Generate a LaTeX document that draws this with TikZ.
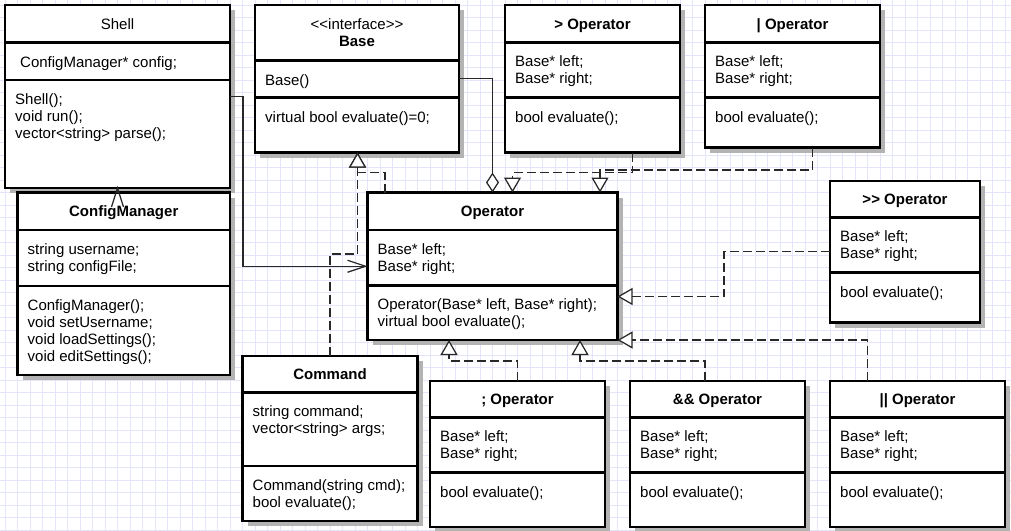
\documentclass[tikz,border=0pt]{standalone}
\usepackage{fontspec}
\setmainfont{Liberation Sans}
\usetikzlibrary{arrows.meta}
\definecolor{gridblue}{RGB}{228,228,250}
\definecolor{shadowgray}{RGB}{179,179,179}
\definecolor{edgegray}{RGB}{40,40,40}

\newcommand{\umlbox}[7]{%
  \fill[boxshadow] (#2+5,#4+5) rectangle (#3+5,#7+5);
  \draw[shadowline] (#3,#5+5) -- (#3+5,#5+5) (#3,#6+5) -- (#3+5,#6+5);
  \node[umlclass,minimum width={#3-#2},minimum height={#7-#4}] (#1) at (#2,#4) {};
  \draw[umlsep] (#2,#5) -- (#3,#5) (#2,#6) -- (#3,#6);
}

\begin{document}
\begin{tikzpicture}[x=1pt,y=-1pt,font=\fontsize{15}{17}\selectfont,
umlclass/.style={draw,line width=2.5pt,fill=white,anchor=north west,inner sep=0pt,outer sep=0pt},
umlsep/.style={line width=2.5pt},
boxshadow/.style={fill=shadowgray},
shadowline/.style={draw=shadowgray,line width=2.5pt},
gridline/.style={draw=gridblue,line width=1pt},
headplain/.style={anchor=base,inner sep=0pt},
headtext/.style={anchor=base,inner sep=0pt,font=\fontsize{15}{17}\selectfont\bfseries},
membertext/.style={anchor=north west,align=left,inner sep=0pt,execute at begin node={\rule{0pt}{12pt}}},
edgeline/.style={draw=edgegray,line width=1.25pt},
assoc/.style={edgeline,-{Straight Barb[length=18pt,width=12pt]}},
realize/.style={edgeline,dash pattern=on 9pt off 4pt,-{Triangle[length=15pt,width=17pt,fill=white]}},
aggregate/.style={edgeline,-{Diamond[length=20pt,width=13pt,fill=white]}}]
\useasboundingbox (0,0) rectangle (1011,530);
\fill[white] (0,0) rectangle (1011,530);
\foreach \g in {5,17.5,...,1011} \draw[gridline] (\g,0) -- (\g,530);
\foreach \g in {5,17.5,...,530} \draw[gridline] (0,\g) -- (1011,\g);

\umlbox{shell}{5}{230}{5}{42.5}{80}{188}
\umlbox{base}{255}{459}{5}{60.5}{97.5}{152.5}
\umlbox{gtop}{505}{680}{5}{42.5}{97.5}{152.5}
\umlbox{pipeop}{705}{880}{5}{42.5}{97.5}{147.5}
\umlbox{cfg}{17.5}{230}{192.5}{230}{286}{375}
\umlbox{op}{367.5}{617.5}{192.5}{230}{285.5}{340}
\umlbox{redirop}{830}{980}{181}{217.5}{272.5}{322.5}
\umlbox{cmd}{242.5}{417.5}{356}{392.5}{466}{521}
\umlbox{semiop}{430}{605}{381}{417.5}{472.5}{527}
\umlbox{andop}{630}{805}{381}{417.5}{472.5}{527}
\umlbox{orop}{830}{1005}{381}{417.5}{472.5}{527}

\node[headplain] (shell-h) at (117.5,29.25) {Shell};
\node[membertext] (shell-a) at (20,55.5) {ConfigManager* config;};
\node[membertext] (shell-m) at (15,93) {Shell();\\void run();\\vector<string> parse();};

\node[headplain] (base-s) at (357,29.75) {<\kern0pt<interface>\kern0pt>};
\node[headtext] (base-h) at (357,46.75) {Base};
\node[membertext] (base-a) at (265,73.5) {Base()};
\node[membertext] (base-m) at (265,110.5) {virtual bool evaluate()=0;};

\node[headtext] (gtop-h) at (592.5,29.25) {> Operator};
\node[membertext] (gtop-a) at (515,55.5) {Base* left;\\Base* right;};
\node[membertext] (gtop-m) at (515,110.5) {bool evaluate();};

\node[headtext] (pipeop-h) at (792.5,29.25) {| Operator};
\node[membertext] (pipeop-a) at (715,55.5) {Base* left;\\Base* right;};
\node[membertext] (pipeop-m) at (715,110.5) {bool evaluate();};

\node[headtext] (cfg-h) at (123.75,216.75) {ConfigManager};
\node[membertext] (cfg-a) at (27.5,243) {string username;\\string configFile;};
\node[membertext] (cfg-m) at (27.5,299) {ConfigManager();\\void setUsername;\\void loadSettings();\\void editSettings();};

\node[headtext] (op-h) at (492.5,216.75) {Operator};
\node[membertext] (op-a) at (377.5,243) {Base* left;\\Base* right;};
\node[membertext] (op-m) at (377.5,298.5) {Operator(Base* left, Base* right);\\virtual bool evaluate();};

\node[headtext] (redirop-h) at (905,204.75) {>\kern0pt> Operator};
\node[membertext] (redirop-a) at (840,230.5) {Base* left;\\Base* right;};
\node[membertext] (redirop-m) at (840,285.5) {bool evaluate();};

\node[headtext] (cmd-h) at (330,379.75) {Command};
\node[membertext] (cmd-a) at (252.5,405.5) {string command;\\vector<string> args;};
\node[membertext] (cmd-m) at (252.5,479) {Command(string cmd);\\bool evaluate();};

\node[headtext] (semiop-h) at (517.5,404.75) {; Operator};
\node[membertext] (semiop-a) at (440,430.5) {Base* left;\\Base* right;};
\node[membertext] (semiop-m) at (440,485.5) {bool evaluate();};

\node[headtext] (andop-h) at (717.5,404.75) {\&\& Operator};
\node[membertext] (andop-a) at (640,430.5) {Base* left;\\Base* right;};
\node[membertext] (andop-m) at (640,485.5) {bool evaluate();};

\node[headtext] (orop-h) at (917.5,404.75) {|| Operator};
\node[membertext] (orop-a) at (840,430.5) {Base* left;\\Base* right;};
\node[membertext] (orop-m) at (840,485.5) {bool evaluate();};

\draw[assoc] (shell.east) -- ++(13,0) |- (op.west);
\draw[edgeline] (cfg.north -| shell.south) -- (shell.south);
\draw[edgeline] ([shift={(-6,19)}]shell.south) -- (shell.south) -- ([shift={(6,19)}]shell.south);
\draw[aggregate] (base.east) -| ([xshift=125]op.north west);
\draw[realize] ([xshift=17.5]op.north west) -- ++(0,-20) -| ([xshift=102.5]base.south west);
\draw[realize] (cmd.north) -- ++(0,-102) -| ([xshift=102.5]base.south west);
\draw[realize] ([xshift=127.5]gtop.south west) -- ++(0,20) -| ([xshift=145]op.north west);
\draw[realize] ([xshift=107.5]pipeop.south west) -- ++(0,22.5) -| ([xshift=232.5]op.north west);
\draw[realize] (redirop.west) -- ++(-106,0) |- ([shift={(0,-43.5)}]op.south east);
\draw[realize] ([xshift=37.5]orop.north west) |- (op.south east);
\draw[realize] ([xshift=87.5]semiop.north west) -- ++(0,-20) -| ([xshift=81.5]op.south west);
\draw[realize] ([xshift=75]andop.north west) -- ++(0,-20) -| ([xshift=212.5]op.south west);
\end{tikzpicture}
\end{document}
